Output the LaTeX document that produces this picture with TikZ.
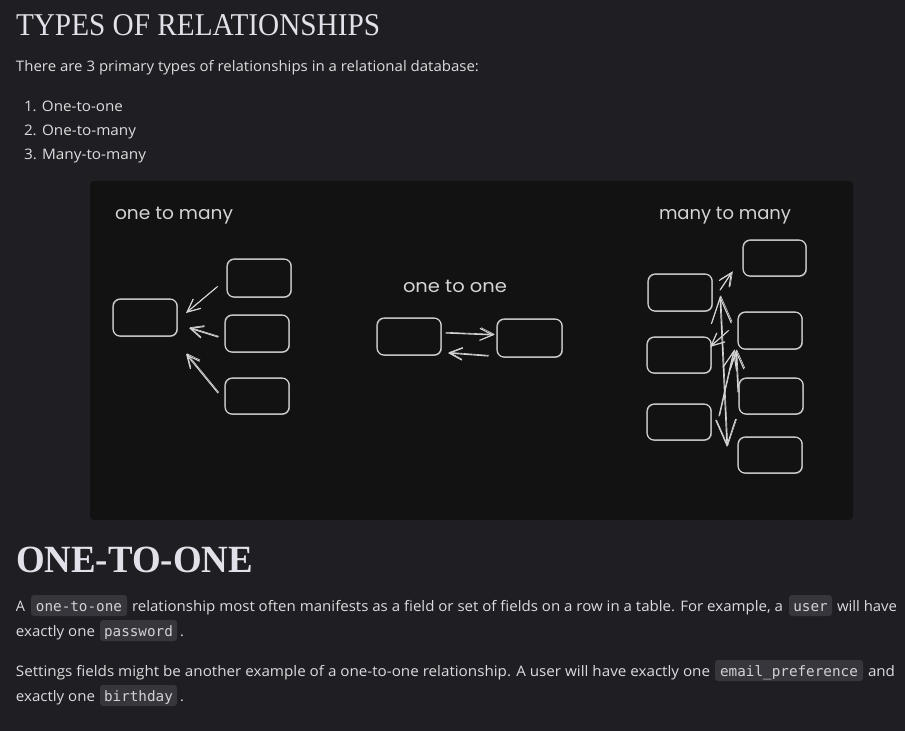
\documentclass[tikz,border=0pt]{standalone}
\usepackage{fontspec}
\usepackage{graphicx}
\setmainfont{Open Sans}
\newfontfamily\headfont{Liberation Serif}
\newfontfamily\monofont{DejaVu Sans Mono}
\newfontfamily\handfont{Poppins}
\usetikzlibrary{arrows.meta}

\definecolor{pagebg}{HTML}{1F1E23}
\definecolor{panelbg}{HTML}{121212}
\definecolor{ink}{HTML}{D4D4D4}
\definecolor{bodyfg}{HTML}{DCDCDE}
\definecolor{headfg}{HTML}{E2E0E8}
\definecolor{codebg}{HTML}{37363C}
\definecolor{codefg}{HTML}{D2D2D4}

\tikzset{
  txt/.style={anchor=base west, inner sep=0pt, outer sep=0pt, text=bodyfg,
              font=\fontsize{14.5}{17}\selectfont},
  headtxt/.style={anchor=base west, inner sep=0pt, outer sep=0pt, text=headfg},
  codetxt/.style={anchor=base, inner sep=0pt, outer sep=0pt, text=codefg,
              font=\monofont\fontsize{14.3}{16}\selectfont},
  handtxt/.style={anchor=base west, inner sep=0pt, outer sep=0pt, text=ink,
              font=\handfont\fontsize{18}{20}\selectfont},
  tbl/.style={draw=ink, line width=1.1pt, rounded corners=7pt, inner sep=0pt,
              outer sep=0pt,
              postaction={draw=ink, line width=0.6pt, opacity=0.7,
                          transform canvas={shift={(0.6pt,-0.5pt)}}}},
  arr/.style={draw=ink, line width=1.1pt, line cap=round, line join=round,
              -{Straight Barb[length=13pt,width=12pt]}},
  longarr/.style={draw=ink, line width=1.1pt, line cap=round, line join=round,
              {Straight Barb[length=26pt,width=20pt]}-{Straight Barb[length=26pt,width=20pt]}},
  midarr/.style={draw=ink, line width=1.1pt, line cap=round, line join=round,
              -{Straight Barb[length=18pt,width=14pt]}},
}

% plain text run, squeezed horizontally to a given width
\newcommand\seg[5]{\node[txt] (#1) at (#2,#3) {\resizebox{#4pt}{\height}{#5}};}
% inline code: name, left, right, baseline, text
\newcommand\code[5]{%
  \path[fill=codebg, rounded corners=3pt] (#2,#4-16) rectangle (#3,#4+5);
  \node[codetxt] (#1) at ({(#2+#3)/2},#4) {#5};}
% table box: name, x1, y1, x2, y2
\newcommand\tbox[5]{\node[tbl, minimum width={(#4-#2)*1pt}, minimum height={(#5-#3)*1pt}]
  (#1) at ({(#2+#4)/2},{(#3+#5)/2}) {};}
% hand-drawn arrow, stroked twice
\newcommand\sarrow[3]{\draw[#1] (#2) -- (#3);
  \draw[#1, line width=0.6pt, transform canvas={shift={(0.8pt,0.7pt)}}] (#2) -- (#3);}

\begin{document}
\begin{tikzpicture}[x=1pt,y=-1pt]
\path[fill=pagebg, use as bounding box] (0,0) rectangle (905,731);

% ---- page heading and list
\node[headtxt] (title) at (16,35) {\resizebox{364pt}{21pt}{\headfont TYPES OF RELATIONSHIPS}};
\seg{intro}{16}{71}{463}{There are 3 primary types of relationships in a relational database:}
\seg{li1}{24}{111}{99}{1. One-to-one}
\seg{li2}{24}{135}{112}{2. One-to-many}
\seg{li3}{24}{159}{122}{3. Many-to-many}

% ---- sketch panel
\path[fill=panelbg, rounded corners=4pt] (90,181) rectangle (853,520);

\node[handtxt] (lblotm) at (115,219) {\resizebox{118pt}{\height}{one to many}};
\node[handtxt] (lbloto) at (403,292) {\resizebox{104pt}{\height}{one to one}};
\node[handtxt] (lblmtm) at (659,219) {\resizebox{132pt}{\height}{many to many}};

% one to many
\tbox{m1}{113}{299}{177}{336}
\tbox{m2a}{227}{259}{291}{297}
\tbox{m2b}{225}{315}{289}{352}
\tbox{m2c}{225}{378}{289}{414}
\coordinate (a1s) at (217,287); \coordinate (a1e) at (186,313);
\coordinate (a2s) at (218,337); \coordinate (a2e) at (189,328);
\coordinate (a3s) at (218,393); \coordinate (a3e) at (186,354);
\sarrow{arr}{a1s}{a1e}
\sarrow{arr}{a2s}{a2e}
\sarrow{arr}{a3s}{a3e}

% one to one
\tbox{o1}{377}{318}{441}{355}
\tbox{o2}{497}{319}{562}{357}
\coordinate (b1s) at (446,333); \coordinate (b1e) at (494,335);
\coordinate (b2s) at (488,356); \coordinate (b2e) at (448,353);
\sarrow{arr}{b1s}{b1e}
\sarrow{arr}{b2s}{b2e}

% many to many
\tbox{L1}{648}{274}{712}{311}
\tbox{L2}{647}{337}{711}{373}
\tbox{L3}{647}{404}{711}{440}
\tbox{R1}{743}{240}{806}{276}
\tbox{R2}{738}{312}{802}{349}
\tbox{R3}{739}{378}{803}{414}
\tbox{R4}{738}{437}{802}{473}
\coordinate (c1s) at (720,290); \coordinate (c1e) at (732,272);
\coordinate (c2s) at (720,296); \coordinate (c2e) at (727,447);
\coordinate (c3s) at (728,331); \coordinate (c3e) at (710,347);
\coordinate (c4s) at (719,416); \coordinate (c4e) at (734,350);
\coordinate (c5s) at (738,392); \coordinate (c5e) at (736,350);
\sarrow{arr}{c1s}{c1e}
\sarrow{longarr}{c2s}{c2e}
\sarrow{arr}{c3s}{c3e}
\sarrow{midarr}{c4s}{c4e}
\sarrow{midarr}{c5s}{c5e}

% ---- section heading
\node[headtxt] (h2) at (16,572) {\resizebox{237pt}{25.5pt}{\headfont\bfseries ONE-TO-ONE}};

% ---- paragraph 1
\node[txt] (p1a) at (16,611) {A};
\code{c1}{31}{127}{611}{one-to-one}
\seg{p1b}{132}{611}{651}{relationship most often manifests as a field or set of fields on a row in a table. For example, a}
\code{c2}{789}{832}{611}{user}
\seg{p1c}{837}{611}{60}{will have}
\seg{p1d}{16}{636}{79}{exactly one}
\code{c3}{100}{177}{636}{password}
\node[txt] (p1e) at (180,636) {.};

% ---- paragraph 2
\seg{p2a}{16}{676}{694}{Settings fields might be another example of a one-to-one relationship. A user will have exactly one}
\code{c4}{715}{863}{676}{email\_preference}
\seg{p2b}{868}{676}{27}{and}
\seg{p2c}{16}{701}{79}{exactly one}
\code{c5}{100}{177}{701}{birthday}
\node[txt] (p2d) at (180,701) {.};
\end{tikzpicture}
\end{document}
